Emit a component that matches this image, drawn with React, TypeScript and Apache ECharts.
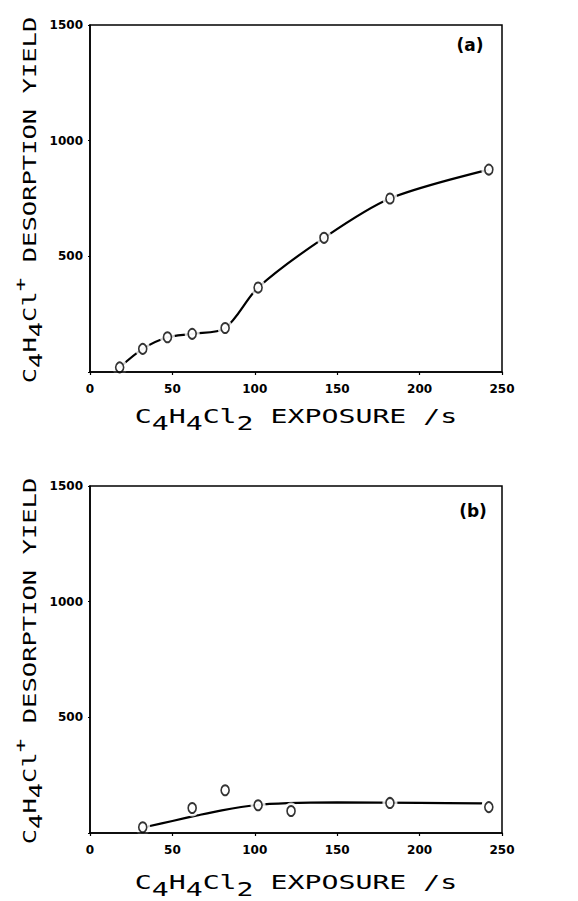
import React, { useEffect, useRef } from 'react';
import * as echarts from 'echarts';

// Axis ticks
const xTicks = [0, 50, 100, 150, 200, 250];
const yTicks = [0, 500, 1000, 1500];

// Panel (a): measured points
const exposureA = [18, 32, 47, 62, 82, 102, 142, 182, 242];
const yieldA = [20, 100, 150, 165, 190, 365, 580, 750, 875];

// Panel (b): measured points
const exposureB = [32, 62, 82, 102, 122, 182, 242];
const yieldB = [25, 108, 185, 120, 95, 130, 112];

// Panel (b): drawn trend curve
const fitExposureB = [35, 50, 65, 80, 100, 120, 150, 200, 238];
const fitYieldB = [28, 52, 76, 98, 120, 129, 132, 130, 128];

const panelLabels = ['(a)', '(b)'];

const zip = (xs: number[], ys: number[]) => xs.map((x, i) => [x, ys[i]]);

const MONO = '"DejaVu Sans Mono", monospace';
const SANS = '"DejaVu Sans", sans-serif';

export default function App() {
  const ref = useRef<HTMLDivElement>(null);

  useEffect(() => {
    if (!ref.current) return;
    const chart = echarts.init(ref.current, null, { renderer: 'svg' });

    const grids = [
      { left: 90, top: 25, width: 412, height: 347 },
      { left: 90, top: 486, width: 412, height: 347 },
    ];

    const xAxisBase = (gi: number) => ({
      type: 'value',
      gridIndex: gi,
      min: xTicks[0],
      max: xTicks[xTicks.length - 1],
      interval: xTicks[1] - xTicks[0],
      z: 10,
      axisLine: { show: true, lineStyle: { color: '#000', width: 1.5 } },
      axisTick: { show: true, length: 3, lineStyle: { color: '#000', width: 1.2 } },
      axisLabel: {
        color: '#000',
        fontFamily: SANS,
        fontWeight: 'bold',
        fontSize: 12,
        margin: 11,
      },
      splitLine: { show: false },
    });

    const yAxisBase = (gi: number) => ({
      type: 'value',
      gridIndex: gi,
      min: yTicks[0],
      max: yTicks[yTicks.length - 1],
      interval: yTicks[1] - yTicks[0],
      z: 10,
      axisLine: { show: true, lineStyle: { color: '#000', width: 1.5 } },
      axisTick: { show: true, length: 2, lineStyle: { color: '#000', width: 1.2 } },
      axisLabel: {
        color: '#000',
        fontFamily: SANS,
        fontWeight: 'bold',
        fontSize: 12,
        margin: 7,
        padding: [0, 0, 6, 0],
        formatter: (v: number) => (v === 0 ? '' : String(v)),
      },
      splitLine: { show: false },
    });

    const pointSeries = (gi: number, xs: number[], ys: number[]) => [
      {
        type: 'scatter',
        xAxisIndex: gi,
        yAxisIndex: gi,
        data: zip(xs, ys),
        symbol: 'circle',
        symbolSize: [15, 17],
        itemStyle: { color: '#fff', borderWidth: 0 },
        silent: true,
        z: 3,
      },
      {
        type: 'scatter',
        xAxisIndex: gi,
        yAxisIndex: gi,
        data: zip(xs, ys),
        symbol: 'circle',
        symbolSize: [8, 10],
        itemStyle: { color: '#fff', borderColor: '#000', borderWidth: 1.8 },
        z: 4,
      },
    ];

    const lineSeries = (gi: number, xs: number[], ys: number[]) => ({
      type: 'line',
      xAxisIndex: gi,
      yAxisIndex: gi,
      data: zip(xs, ys),
      smooth: 0.3,
      symbol: 'none',
      lineStyle: { color: '#000', width: 2.2 },
      z: 2,
    });

    const xTitle = (y: number) => ({
      type: 'text',
      x: 296,
      y,
      scaleX: 1.41,
      scaleY: 1,
      style: {
        text: '{n|C}{s|4}{n|H}{s|4}{n|Cl}{s|2}{n| EXPOSURE /s}',
        align: 'center',
        verticalAlign: 'middle',
        textAlign: 'center',
        textVerticalAlign: 'middle',
        fill: '#000',
        rich: {
          n: { fontFamily: MONO, fontSize: 20, lineHeight: 22, color: '#000' },
          s: { fontFamily: MONO, fontSize: 20, lineHeight: 22, color: '#000', padding: [14, 0, 0, 0] },
        },
      },
    });

    const yTitle = (y: number) => ({
      type: 'text',
      x: 30,
      y,
      rotation: Math.PI / 2,
      scaleX: 1.5,
      scaleY: 1,
      style: {
        text: '{n|C}{s|4}{n|H}{s|4}{n|Cl}{p|+}{n| DESORPTION YIELD}',
        align: 'center',
        verticalAlign: 'middle',
        textAlign: 'center',
        textVerticalAlign: 'middle',
        fill: '#000',
        rich: {
          n: { fontFamily: MONO, fontSize: 17, lineHeight: 19, color: '#000' },
          s: { fontFamily: MONO, fontSize: 17, lineHeight: 19, color: '#000', padding: [12, 0, 0, 0] },
          p: { fontFamily: MONO, fontSize: 15, lineHeight: 17, color: '#000', padding: [0, 0, 18, 0] },
        },
      },
    });

    const panelLabel = (text: string, x: number, y: number) => ({
      type: 'text',
      x,
      y,
      style: {
        text,
        align: 'center',
        verticalAlign: 'middle',
        textAlign: 'center',
        textVerticalAlign: 'middle',
        fill: '#000',
        fontFamily: SANS,
        fontWeight: 'bold',
        fontSize: 17,
      },
    });

    chart.setOption({
      animation: false,
      backgroundColor: '#fff',
      grid: grids.map((g) => ({
        ...g,
        show: true,
        borderColor: '#000',
        borderWidth: 1.5,
        backgroundColor: 'transparent',
      })),
      xAxis: [xAxisBase(0), xAxisBase(1)],
      yAxis: [yAxisBase(0), yAxisBase(1)],
      series: [
        lineSeries(0, exposureA, yieldA),
        ...pointSeries(0, exposureA, yieldA),
        lineSeries(1, fitExposureB, fitYieldB),
        ...pointSeries(1, exposureB, yieldB),
      ],
      graphic: [
        xTitle(416),
        xTitle(882),
        yTitle(200),
        yTitle(661),
        panelLabel(panelLabels[0], 470, 45),
        panelLabel(panelLabels[1], 473, 511),
      ],
    });

    return () => {
      chart.dispose();
    };
  }, []);

  return (
    <div
      ref={ref}
      style={{ position: 'absolute', left: 0, top: 0, width: 578, height: 901, background: '#fff' }}
    />
  );
}
